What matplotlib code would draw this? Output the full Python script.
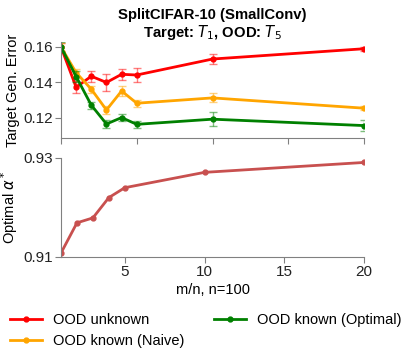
import matplotlib.pyplot as plt

plt.rcParams['font.family'] = ['Liberation Sans', 'DejaVu Sans']

# top panel: target generalization error
x_err = [0, 1, 2, 3, 4, 5, 10, 20]
unknown = [0.160, 0.1373, 0.1435, 0.1400, 0.1446, 0.1442, 0.1532, 0.1590]
unknown_sd = [0.002, 0.0035, 0.003, 0.005, 0.003, 0.004, 0.003, 0.001]
naive = [0.160, 0.1455, 0.1362, 0.1245, 0.1352, 0.1283, 0.1313, 0.1255]
naive_sd = [0.002, 0.002, 0.002, 0.002, 0.003, 0.002, 0.0025, 0.001]
optimal = [0.160, 0.1433, 0.1272, 0.1166, 0.1202, 0.1164, 0.1193, 0.1157]
optimal_sd = [0.003, 0.003, 0.002, 0.002, 0.002, 0.002, 0.004, 0.003]

# bottom panel: optimal alpha
x_alpha = [1, 2, 3, 4, 5, 10, 20]
alpha = [0.9108, 0.9169, 0.9179, 0.9220, 0.9240, 0.9271, 0.9291]

fig = plt.figure(figsize=(4.16, 3.59), dpi=100)
ax1 = fig.add_axes([61/416, 1-138/359, 303/416, 96/359])
ax2 = fig.add_axes([61/416, 1-257/359, 303/416, 99/359])

series = [(unknown, unknown_sd, 'red', 'OOD unknown'),
          (naive, naive_sd, 'orange', 'OOD known (Naive)'),
          (optimal, optimal_sd, 'green', 'OOD known (Optimal)')]
handles = []
for y, sd, c, lab in series:
    ax1.errorbar(x_err, y, yerr=sd, color=c, ecolor=c, elinewidth=1,
                 capsize=3, capthick=1, alpha=0.5, lw=0, marker='')
    h, = ax1.plot(x_err, y, color=c, lw=2, marker='o', ms=3.5, label=lab)
    handles.append(h)

ax2.plot(x_alpha, alpha, color='#c8504f', lw=2, marker='o', ms=3.5)

gray = '#808080'
for ax in (ax1, ax2):
    ax.spines['top'].set_visible(False)
    ax.spines['right'].set_visible(False)
    ax.spines['left'].set_color(gray)
    ax.spines['bottom'].set_color(gray)
    ax.tick_params(colors=gray, labelcolor='#222222', labelsize=11,
                   direction='out', length=4, pad=2)

ax1.set_xlim(0, 20)
ax1.set_xticks([0, 5, 10, 15, 20])
ax1.set_xticklabels([])
ax1.set_ylim(0.1087, 0.1628)
ax1.set_yticks([0.12, 0.14, 0.16])
ax1.set_ylabel('Target Gen. Error', fontsize=10.5, labelpad=2)
ax1.set_title('SplitCIFAR-10 (SmallConv)\nTarget: $T_1$, OOD: $T_5$',
              fontsize=10.7, fontweight='bold', pad=3, linespacing=1.1)

ax2.set_xlim(1, 20)
ax2.set_xticks([5, 10, 15, 20])
ax2.set_ylim(0.91, 0.93)
ax2.set_yticks([0.91, 0.93])
ax2.set_ylabel(r'Optimal $\alpha^*$', fontsize=10.5, labelpad=2)
ax2.set_xlabel('m/n, n=100', fontsize=10.5, labelpad=3)

fig.legend(handles=handles, ncol=2, loc='upper left',
           bbox_to_anchor=(-0.007, 0.165), frameon=False, fontsize=10.5,
           handlelength=2.2, handletextpad=0.75, columnspacing=2.0,
           labelspacing=0.5)

fig.savefig('out.png', dpi=100)
